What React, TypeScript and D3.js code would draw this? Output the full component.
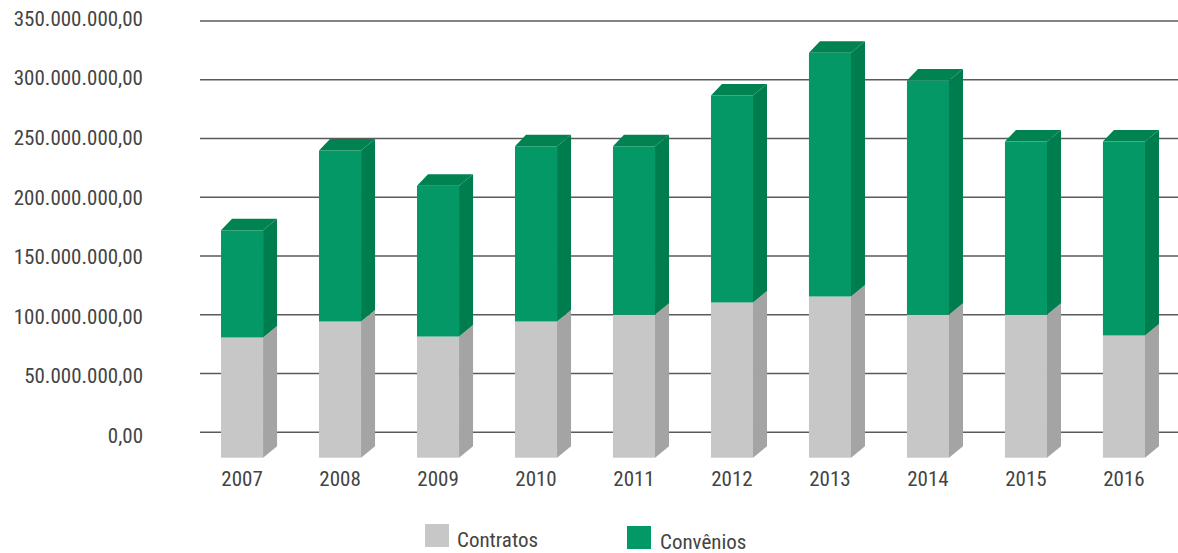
import React from "react";
import * as d3 from "d3";

const years = ["2007", "2008", "2009", "2010", "2011", "2012", "2013", "2014", "2015", "2016"];
const contratos = [102.3e6, 115.9e6, 103.1e6, 115.9e6, 121.6e6, 132.1e6, 137.2e6, 121.6e6, 121.6e6, 104.0e6];
const totais = [193.5e6, 261.4e6, 231.5e6, 265.0e6, 265.0e6, 308.2e6, 344.6e6, 321.0e6, 269.0e6, 269.0e6];
const convenios = totais.map((t, i) => t - contratos[i]);
const yTicks = [0, 50e6, 100e6, 150e6, 200e6, 250e6, 300e6, 350e6];
const seriesNames = ["Contratos", "Convênios"];

const W = 1178;
const H = 553;
const FONT = "'Liberation Sans Narrow', 'Roboto Condensed', 'DejaVu Sans Condensed', sans-serif";
const FS = 21;

const fmt = (v: number) => {
  const s = d3.format(",.2f")(v);
  return s.replace(/,/g, "#").replace(/\./g, ",").replace(/#/g, ".");
};

export default function App() {
  const yWall = d3.scaleLinear().domain([0, 350e6]).range([432.3, 21]);
  const yFront = d3.scaleLinear().domain([0, 350e6]).range([457.7, 457.7 - (432.3 - 21)]);
  const yLabel = d3.scaleLinear().domain([0, 350e6]).range([442.8, 25.8]);
  const x = d3.scaleBand().domain(years).range([193, 1173]).paddingInner(0.571).paddingOuter(0.286);
  const dxL = 11, dxR = 14, dy = 11.5;

  const front = { c: "#c7c7c7", g: "#039866" };
  const side = { c: "#a4a4a4", g: "#007d4e" };
  const top = { c: "#b5b5b5", g: "#008350" };

  const segs = years.map((yr, i) => [
    { key: "c", y0: 0, y1: contratos[i] },
    { key: "g", y0: contratos[i], y1: contratos[i] + convenios[i] },
  ]);

  return (
    <svg width={W} height={H} style={{ position: "absolute", left: 0, top: 0, background: "#fff" }}>
      {yTicks.map((t) => (
        <g key={t}>
          <line x1={200} x2={1178} y1={yWall(t)} y2={yWall(t)} stroke="#5a5a5a" strokeWidth={1.6} />
          <text x={143} y={yLabel(t)} textAnchor="end" fontFamily={FONT} fontSize={FS} fill="#444">
            {fmt(t)}
          </text>
        </g>
      ))}
      {years.map((yr, i) => {
        const x0 = x(yr)!;
        const x1 = x0 + x.bandwidth();
        return (
          <g key={yr}>
            {segs[i].map((s) => {
              const yt = yFront(s.y1);
              const yb = yFront(s.y0);
              const k = s.key as "c" | "g";
              return (
                <g key={s.key}>
                  <rect x={x0} y={yt} width={x1 - x0} height={yb - yt} fill={front[k]} />
                  <polygon
                    points={`${x1},${yt} ${x1 + dxR},${yt - dy} ${x1 + dxR},${yb - dy} ${x1},${yb}`}
                    fill={side[k]}
                  />
                </g>
              );
            })}
            {(() => {
              const yt = yFront(totais[i]);
              return (
                <polygon
                  points={`${x0},${yt} ${x0 + dxL},${yt - dy} ${x1 + dxR},${yt - dy} ${x1},${yt}`}
                  fill={top.g}
                />
              );
            })()}
            <text x={x0 + x.bandwidth() / 2} y={485.5} textAnchor="middle" fontFamily={FONT} fontSize={FS} fill="#444">
              {yr}
            </text>
          </g>
        );
      })}
      <rect x={425} y={524} width={24} height={23} fill={front.c} />
      <text x={457} y={546.5} fontFamily={FONT} fontSize={FS} fill="#444">{seriesNames[0]}</text>
      <rect x={627} y={526} width={24} height={23} fill={front.g} />
      <text x={660} y={548.5} fontFamily={FONT} fontSize={FS} fill="#444">{seriesNames[1]}</text>
    </svg>
  );
}
